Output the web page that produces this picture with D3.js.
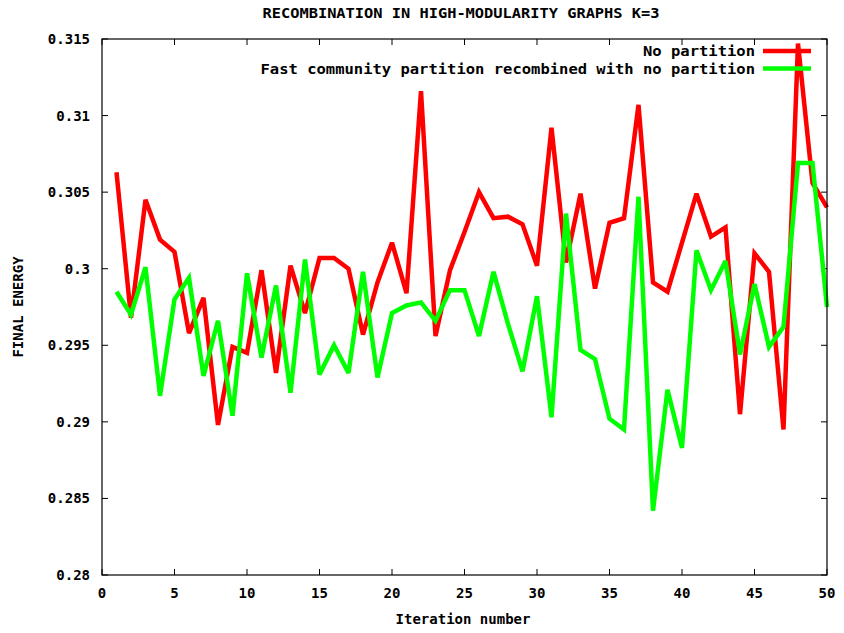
<!DOCTYPE html>
<html>
<head>
<meta charset="utf-8">
<script src="https://cdn.jsdelivr.net/npm/d3@7"></script>
<style>
  body { margin: 0; background: #fff; }
  text { font-family: "DejaVu Sans Mono", monospace; font-weight: bold; fill: #000; }
</style>
</head>
<body>
<div id="chart"></div>
<script>
// iterations 1..50
var iterations = d3.range(1, 51);

var noPartition = [
  0.3063, 0.2968, 0.3045, 0.3019, 0.3011, 0.2958, 0.2981, 0.2898, 0.2949, 0.2945,
  0.2999, 0.2932, 0.3002, 0.2971, 0.3007, 0.3007, 0.3000, 0.2957, 0.2991, 0.3017,
  0.2984, 0.3116, 0.2956, 0.2999, 0.3024, 0.3050, 0.3033, 0.3034, 0.3029, 0.3002,
  0.3092, 0.3004, 0.3049, 0.2987, 0.3030, 0.3033, 0.3107, 0.2991, 0.2985, 0.3017,
  0.3049, 0.3021, 0.3027, 0.2905, 0.3010, 0.2998, 0.2895, 0.3147, 0.3056, 0.3040
];

var fastCommunity = [
  0.2985, 0.2970, 0.3001, 0.2917, 0.2980, 0.2994, 0.2930, 0.2966, 0.2904, 0.2997,
  0.2942, 0.2989, 0.2919, 0.3006, 0.2931, 0.2950, 0.2932, 0.2998, 0.2929, 0.2971,
  0.2976, 0.2978, 0.2966, 0.2986, 0.2986, 0.2956, 0.2998, 0.2964, 0.2933, 0.2982,
  0.2903, 0.3036, 0.2947, 0.2941, 0.2902, 0.2895, 0.3047, 0.2842, 0.2921, 0.2883,
  0.3012, 0.2986, 0.3005, 0.2944, 0.2990, 0.2949, 0.2962, 0.3069, 0.3069, 0.2975
];

var xTicks = [0, 5, 10, 15, 20, 25, 30, 35, 40, 45, 50];
var yTicks = [0.28, 0.285, 0.29, 0.295, 0.3, 0.305, 0.31, 0.315];

var series = [
  {name: "No partition", values: noPartition, color: "#ff0000"},
  {name: "Fast community partition recombined with no partition", values: fastCommunity, color: "#00ff00"}
];

var W = 844, H = 633;
var margin = {top: 39, right: 17, bottom: 58, left: 102};
var width = W - margin.left - margin.right,
    height = H - margin.top - margin.bottom;

var svg = d3.select("#chart").append("svg")
    .attr("width", W)
    .attr("height", H);

var g = svg.append("g")
    .attr("transform", "translate(" + margin.left + "," + margin.top + ")");

var x = d3.scaleLinear().domain([0, 50]).range([0, width]);
var y = d3.scaleLinear().domain([0.28, 0.315]).range([height, 0]);

// ticks, inward on all four sides
var tickLen = 6;
g.append("g").selectAll("line")
  .data(xTicks)
  .enter().append("line")
    .attr("x1", function(d) { return x(d); })
    .attr("x2", function(d) { return x(d); })
    .attr("y1", height).attr("y2", height - tickLen)
    .attr("stroke", "#000");
g.append("g").selectAll("line")
  .data(xTicks)
  .enter().append("line")
    .attr("x1", function(d) { return x(d); })
    .attr("x2", function(d) { return x(d); })
    .attr("y1", 0).attr("y2", tickLen)
    .attr("stroke", "#000");
g.append("g").selectAll("line")
  .data(yTicks)
  .enter().append("line")
    .attr("x1", 0).attr("x2", tickLen)
    .attr("y1", function(d) { return y(d); })
    .attr("y2", function(d) { return y(d); })
    .attr("stroke", "#000");
g.append("g").selectAll("line")
  .data(yTicks)
  .enter().append("line")
    .attr("x1", width).attr("x2", width - tickLen)
    .attr("y1", function(d) { return y(d); })
    .attr("y2", function(d) { return y(d); })
    .attr("stroke", "#000");

// tick labels
g.append("g").selectAll("text")
  .data(xTicks)
  .enter().append("text")
    .attr("x", function(d) { return x(d); })
    .attr("y", height + 23)
    .attr("text-anchor", "middle")
    .attr("font-size", "14px")
    .text(function(d) { return d; });

g.append("g").selectAll("text")
  .data(yTicks)
  .enter().append("text")
    .attr("x", -12)
    .attr("y", function(d) { return y(d) + 5; })
    .attr("text-anchor", "end")
    .attr("font-size", "14px")
    .text(function(d) { return d3.format("")(+d.toFixed(3)); });

// lines
var line = d3.line()
    .x(function(d, i) { return x(iterations[i]); })
    .y(function(d) { return y(d); });

g.append("g").selectAll("path")
  .data(series)
  .enter().append("path")
    .attr("d", function(d) { return line(d.values); })
    .attr("fill", "none")
    .attr("stroke", function(d) { return d.color; })
    .attr("stroke-width", 4.5)
    .attr("stroke-linejoin", "miter")
    .attr("stroke-miterlimit", 3);

// legend
var legend = g.append("g").selectAll("g")
  .data(series)
  .enter().append("g")
    .attr("transform", function(d, i) { return "translate(0," + (12 + i * 17.6) + ")"; });

legend.append("text")
    .attr("x", 653)
    .attr("y", 5)
    .attr("text-anchor", "end")
    .attr("font-size", "14px")
    .attr("textLength", function(d) { return d.name.length * 9.33; })
    .attr("lengthAdjust", "spacingAndGlyphs")
    .text(function(d) { return d.name; });

legend.append("line")
    .attr("x1", 661).attr("x2", 709)
    .attr("y1", 0).attr("y2", 0)
    .attr("stroke", function(d) { return d.color; })
    .attr("stroke-width", 4.5);

// frame
g.append("rect")
    .attr("width", width)
    .attr("height", height)
    .attr("fill", "none")
    .attr("stroke", "#000")
    .attr("stroke-width", 1.2);

// title and axis labels
svg.append("text")
    .attr("x", 461)
    .attr("y", 18)
    .attr("text-anchor", "middle")
    .attr("font-size", "14px")
    .attr("textLength", 397)
    .attr("lengthAdjust", "spacingAndGlyphs")
    .text("RECOMBINATION IN HIGH-MODULARITY GRAPHS K=3");

svg.append("text")
    .attr("x", 463)
    .attr("y", 624)
    .attr("text-anchor", "middle")
    .attr("font-size", "14px")
    .text("Iteration number");

svg.append("text")
    .attr("transform", "translate(23," + (margin.top + height / 2) + ")rotate(-90)")
    .attr("text-anchor", "middle")
    .attr("font-size", "14px")
    .text("FINAL ENERGY");
</script>
</body>
</html>
